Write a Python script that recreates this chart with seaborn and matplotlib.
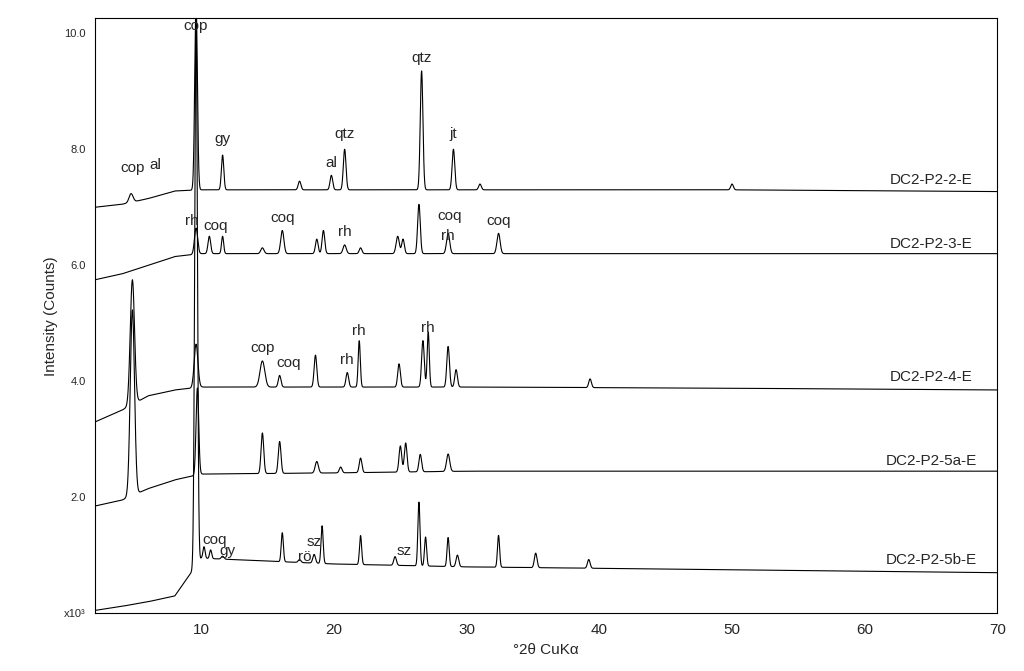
import numpy as np
import matplotlib
matplotlib.use("Agg")
import matplotlib.pyplot as plt
import seaborn as sns
import pandas as pd

sns.set_style("white")
plt.rcParams['font.family'] = ['Liberation Sans', 'DejaVu Sans']

names = ["DC2-P2-2-E", "DC2-P2-3-E", "DC2-P2-4-E", "DC2-P2-5a-E", "DC2-P2-5b-E"]
# baseline control points (2theta, intensity x10^3)
base_x = [2, 4, 6, 8, 10, 20, 30, 50, 70]
base_y = [
    [7.0, 7.05, 7.15, 7.28, 7.3, 7.3, 7.3, 7.3, 7.27],
    [5.75, 5.85, 6.0, 6.15, 6.2, 6.2, 6.2, 6.2, 6.2],
    [3.3, 3.5, 3.75, 3.85, 3.9, 3.9, 3.9, 3.88, 3.85],
    [1.85, 1.95, 2.15, 2.3, 2.4, 2.42, 2.45, 2.45, 2.45],
    [0.05, 0.12, 0.2, 0.3, 0.95, 0.85, 0.8, 0.75, 0.7],
]
# peaks: (position, height above baseline, width)
peaks = [
    [(4.7, 0.15, 0.15), (9.6, 3.2, 0.1), (11.6, 0.6, 0.09), (17.4, 0.15, 0.1), (19.8, 0.25, 0.1),
     (20.8, 0.7, 0.1), (26.6, 2.05, 0.1), (29.0, 0.7, 0.1), (31.0, 0.1, 0.1), (50.0, 0.1, 0.1)],
    [(9.6, 0.45, 0.12), (10.6, 0.3, 0.1), (11.6, 0.3, 0.08), (14.6, 0.1, 0.12), (16.1, 0.4, 0.12),
     (18.7, 0.25, 0.1), (19.2, 0.4, 0.1), (20.8, 0.15, 0.12), (22.0, 0.1, 0.1), (24.8, 0.3, 0.12),
     (25.2, 0.25, 0.1), (26.4, 0.85, 0.1), (28.6, 0.35, 0.12), (32.4, 0.35, 0.12)],
    [(4.8, 2.15, 0.16), (9.6, 0.75, 0.14), (14.6, 0.45, 0.18), (15.9, 0.2, 0.1), (18.6, 0.55, 0.1),
     (21.0, 0.25, 0.1), (21.9, 0.8, 0.08), (24.9, 0.4, 0.1), (26.7, 0.8, 0.1), (27.1, 0.95, 0.08),
     (28.6, 0.7, 0.1), (29.2, 0.3, 0.1), (39.3, 0.15, 0.1)],
    [(4.8, 3.2, 0.16), (9.7, 1.5, 0.1), (14.6, 0.7, 0.1), (15.9, 0.55, 0.1), (18.7, 0.2, 0.12),
     (20.5, 0.1, 0.1), (22.0, 0.25, 0.1), (25.0, 0.45, 0.1), (25.4, 0.5, 0.1), (26.5, 0.3, 0.1),
     (28.6, 0.3, 0.12)],
    [(9.6, 9.4, 0.1), (10.2, 0.2, 0.08), (10.7, 0.15, 0.08), (11.6, 0.05, 0.1), (16.1, 0.5, 0.08),
     (17.4, 0.05, 0.1), (18.5, 0.15, 0.1), (19.1, 0.65, 0.08), (22.0, 0.5, 0.08), (24.6, 0.15, 0.1),
     (26.4, 1.1, 0.08), (26.9, 0.5, 0.08), (28.6, 0.5, 0.08), (29.3, 0.2, 0.1), (32.4, 0.55, 0.08),
     (35.2, 0.25, 0.1), (39.2, 0.15, 0.1)],
]
label_pos = [7.35, 6.25, 3.95, 2.5, 0.8]
annotations = [
    ("cop", 9.6, 10.0), ("cop", 4.8, 7.55), ("al", 6.5, 7.6), ("gy", 11.6, 8.05), ("al", 19.8, 7.65),
    ("qtz", 20.8, 8.15), ("qtz", 26.6, 9.45), ("jt", 29.0, 8.15),
    ("rh", 9.3, 6.65), ("coq", 11.1, 6.55), ("coq", 16.1, 6.7), ("rh", 20.8, 6.45),
    ("coq", 28.7, 6.72), ("rh", 28.6, 6.38), ("coq", 32.4, 6.65),
    ("cop", 14.6, 4.45), ("coq", 16.6, 4.2), ("rh", 21.9, 4.75), ("rh", 21.0, 4.25), ("rh", 27.1, 4.8),
    ("coq", 11.0, 1.15), ("gy", 12.0, 0.95), ("sz", 18.5, 1.1), ("rö", 17.8, 0.85), ("sz", 25.3, 0.95),
]

x = np.linspace(2, 70, 6000)
fig, ax = plt.subplots(figsize=(10.24, 6.71), dpi=100)
fig.subplots_adjust(left=0.093, right=0.974, top=0.973, bottom=0.086)
for i, nm in enumerate(names):
    y = np.interp(x, base_x, base_y[i])
    for p, h, w in peaks[i]:
        y = y + h * np.exp(-0.5 * ((x - p) / w) ** 2)
    sns.lineplot(x=x, y=y, ax=ax, color="black", lw=0.8)
    ax.text(65, label_pos[i], nm, ha="center", va="bottom", fontsize=11)
for t, px, py in annotations:
    ax.text(px, py, t, ha="center", va="bottom", fontsize=11)
ax.set_xlim(2, 70)
ax.set_ylim(0, 10.26)
ax.set_xticks([10, 20, 30, 40, 50, 60, 70])
ax.set_yticks([0, 2, 4, 6, 8, 10])
ax.set_yticklabels(["x10³", "2.0", "4.0", "6.0", "8.0", "10.0"], fontsize=8)
ax.tick_params(axis="x", labelsize=11)
ax.set_xlabel("°2θ CuKα", fontsize=11)
ax.set_ylabel("Intensity (Counts)", fontsize=11)
for s in ax.spines.values():
    s.set_color("black"); s.set_linewidth(0.8)
fig.savefig("out.png")
